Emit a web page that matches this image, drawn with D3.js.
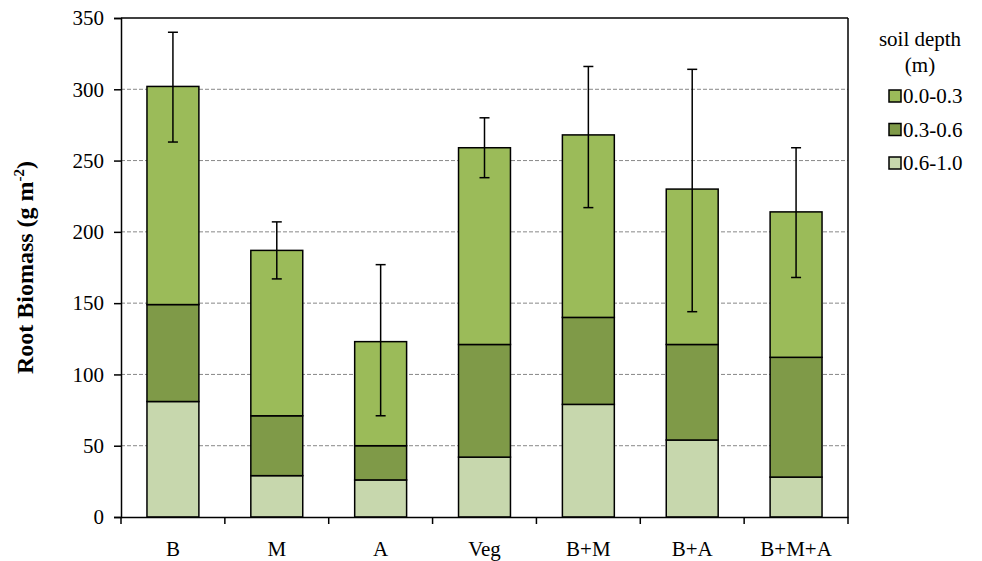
<!DOCTYPE html>
<html>
<head>
<meta charset="utf-8">
<script src="https://cdn.jsdelivr.net/npm/d3@7"></script>
<style>
  body { margin: 0; background: #fff; }
</style>
</head>
<body>
<div id="chart"></div>
<script>
// data
const categories = ['B', 'M', 'A', 'Veg', 'B+M', 'B+A', 'B+M+A'];
const depths = ['0.6-1.0', '0.3-0.6', '0.0-0.3'];   // stacked bottom -> top
const deep = [81, 29, 26, 42, 79, 54, 28];          // 0.6-1.0
const middle = [68, 42, 24, 79, 61, 67, 84];        // 0.3-0.6
const shallow = [153, 116, 73, 138, 128, 109, 102]; // 0.0-0.3
const errLow = [263, 167, 71, 238, 217, 144, 168];
const errHigh = [340, 207, 177, 280, 316, 314, 259];
const yTicks = [0, 50, 100, 150, 200, 250, 300, 350];

const colors = { '0.0-0.3': '#9bbb59', '0.3-0.6': '#7f9a48', '0.6-1.0': '#c7d7ad' };
const FONT = "'Liberation Serif', 'Times New Roman', Times, 'DejaVu Serif', serif";

// dimensions
const width = 982, height = 561;
const margin = { top: 18, right: 134, bottom: 44, left: 121 };
const innerW = width - margin.left - margin.right;
const innerH = height - margin.top - margin.bottom;

const svg = d3.select('#chart').append('svg')
  .attr('width', width)
  .attr('height', height)
  .attr('font-family', FONT);

const g = svg.append('g')
  .attr('transform', 'translate(' + margin.left + ',' + margin.top + ')');

const x = d3.scaleBand().domain(categories).range([0, innerW]).paddingInner(0.5).paddingOuter(0.25);
const y = d3.scaleLinear().domain([0, 350]).range([innerH, 0]);

// gridlines
g.selectAll('.grid').data(yTicks.filter(t => t > 0 && t < 350)).enter()
  .append('line')
  .attr('x1', 0).attr('x2', innerW)
  .attr('y1', d => y(d)).attr('y2', d => y(d))
  .attr('stroke', '#888').attr('stroke-width', 1)
  .attr('stroke-dasharray', '4,2');

// plot border (top and right)
g.append('line').attr('x1', 0).attr('x2', innerW).attr('y1', y(350)).attr('y2', y(350))
  .attr('stroke', '#000').attr('stroke-width', 1.5);
g.append('line').attr('x1', innerW).attr('x2', innerW).attr('y1', 0).attr('y2', innerH)
  .attr('stroke', '#000').attr('stroke-width', 1.5);

// stack
const rows = categories.map((c, i) => ({ cat: c, '0.6-1.0': deep[i], '0.3-0.6': middle[i], '0.0-0.3': shallow[i] }));
const stacked = d3.stack().keys(depths)(rows);

g.selectAll('.layer').data(stacked).enter()
  .append('g')
  .attr('fill', d => colors[d.key])
  .selectAll('rect').data(d => d).enter()
  .append('rect')
  .attr('x', d => x(d.data.cat))
  .attr('width', x.bandwidth())
  .attr('y', d => y(d[1]))
  .attr('height', d => y(d[0]) - y(d[1]))
  .attr('stroke', '#000').attr('stroke-width', 1.5);

// error bars
const errs = categories.map((c, i) => ({ cat: c, lo: errLow[i], hi: errHigh[i] }));
const eb = g.selectAll('.err').data(errs).enter().append('g')
  .attr('stroke', '#000').attr('stroke-width', 1.5);
eb.append('line')
  .attr('x1', d => x(d.cat) + x.bandwidth() / 2).attr('x2', d => x(d.cat) + x.bandwidth() / 2)
  .attr('y1', d => y(d.lo)).attr('y2', d => y(d.hi));
eb.append('line')
  .attr('x1', d => x(d.cat) + x.bandwidth() / 2 - 5).attr('x2', d => x(d.cat) + x.bandwidth() / 2 + 5)
  .attr('y1', d => y(d.hi)).attr('y2', d => y(d.hi));
eb.append('line')
  .attr('x1', d => x(d.cat) + x.bandwidth() / 2 - 5).attr('x2', d => x(d.cat) + x.bandwidth() / 2 + 5)
  .attr('y1', d => y(d.lo)).attr('y2', d => y(d.lo));

// y axis
const yAxis = g.append('g')
  .call(d3.axisLeft(y).tickValues(yTicks).tickSize(7).tickPadding(10));
yAxis.attr('font-family', FONT).attr('font-size', 21);
yAxis.select('.domain').attr('stroke-width', 1.5);
yAxis.selectAll('.tick line').attr('stroke-width', 1.5);

// x axis, ticks at category boundaries
const xAxis = g.append('g').attr('transform', 'translate(0,' + innerH + ')')
  .call(d3.axisBottom(x).tickSize(0).tickPadding(24));
xAxis.attr('font-family', FONT).attr('font-size', 21);
xAxis.select('.domain').attr('stroke-width', 1.5);
const step = x.step();
g.selectAll('.xtick').data(d3.range(categories.length + 1)).enter()
  .append('line')
  .attr('x1', d => d * step).attr('x2', d => d * step)
  .attr('y1', innerH).attr('y2', innerH + 7)
  .attr('stroke', '#000').attr('stroke-width', 1.5);

// y axis title
const yt = svg.append('text')
  .attr('transform', 'translate(33,' + (margin.top + innerH / 2) + ') rotate(-90)')
  .attr('text-anchor', 'middle')
  .attr('font-size', 24).attr('font-weight', 'bold');
yt.append('tspan').text('Root Biomass (g m');
yt.append('tspan').text('-2').attr('dy', -9).attr('font-size', 15);
yt.append('tspan').text(')').attr('dy', 9);

// legend
const lg = svg.append('g').attr('transform', 'translate(920,0)').attr('font-size', 21);
lg.append('text').attr('x', 0).attr('y', 46).attr('text-anchor', 'middle').text('soil depth');
lg.append('text').attr('x', 0).attr('y', 72).attr('text-anchor', 'middle').text('(m)');
const legendKeys = ['0.0-0.3', '0.3-0.6', '0.6-1.0'];
const li = lg.selectAll('.li').data(legendKeys).enter().append('g')
  .attr('transform', (d, i) => 'translate(-31,' + (96 + i * 33.5) + ')');
li.append('rect').attr('x', 0).attr('y', -6).attr('width', 12).attr('height', 12)
  .attr('fill', d => colors[d]).attr('stroke', '#000').attr('stroke-width', 1.5);
li.append('text').attr('x', 14).attr('y', 7).text(d => d);
</script>
</body>
</html>
